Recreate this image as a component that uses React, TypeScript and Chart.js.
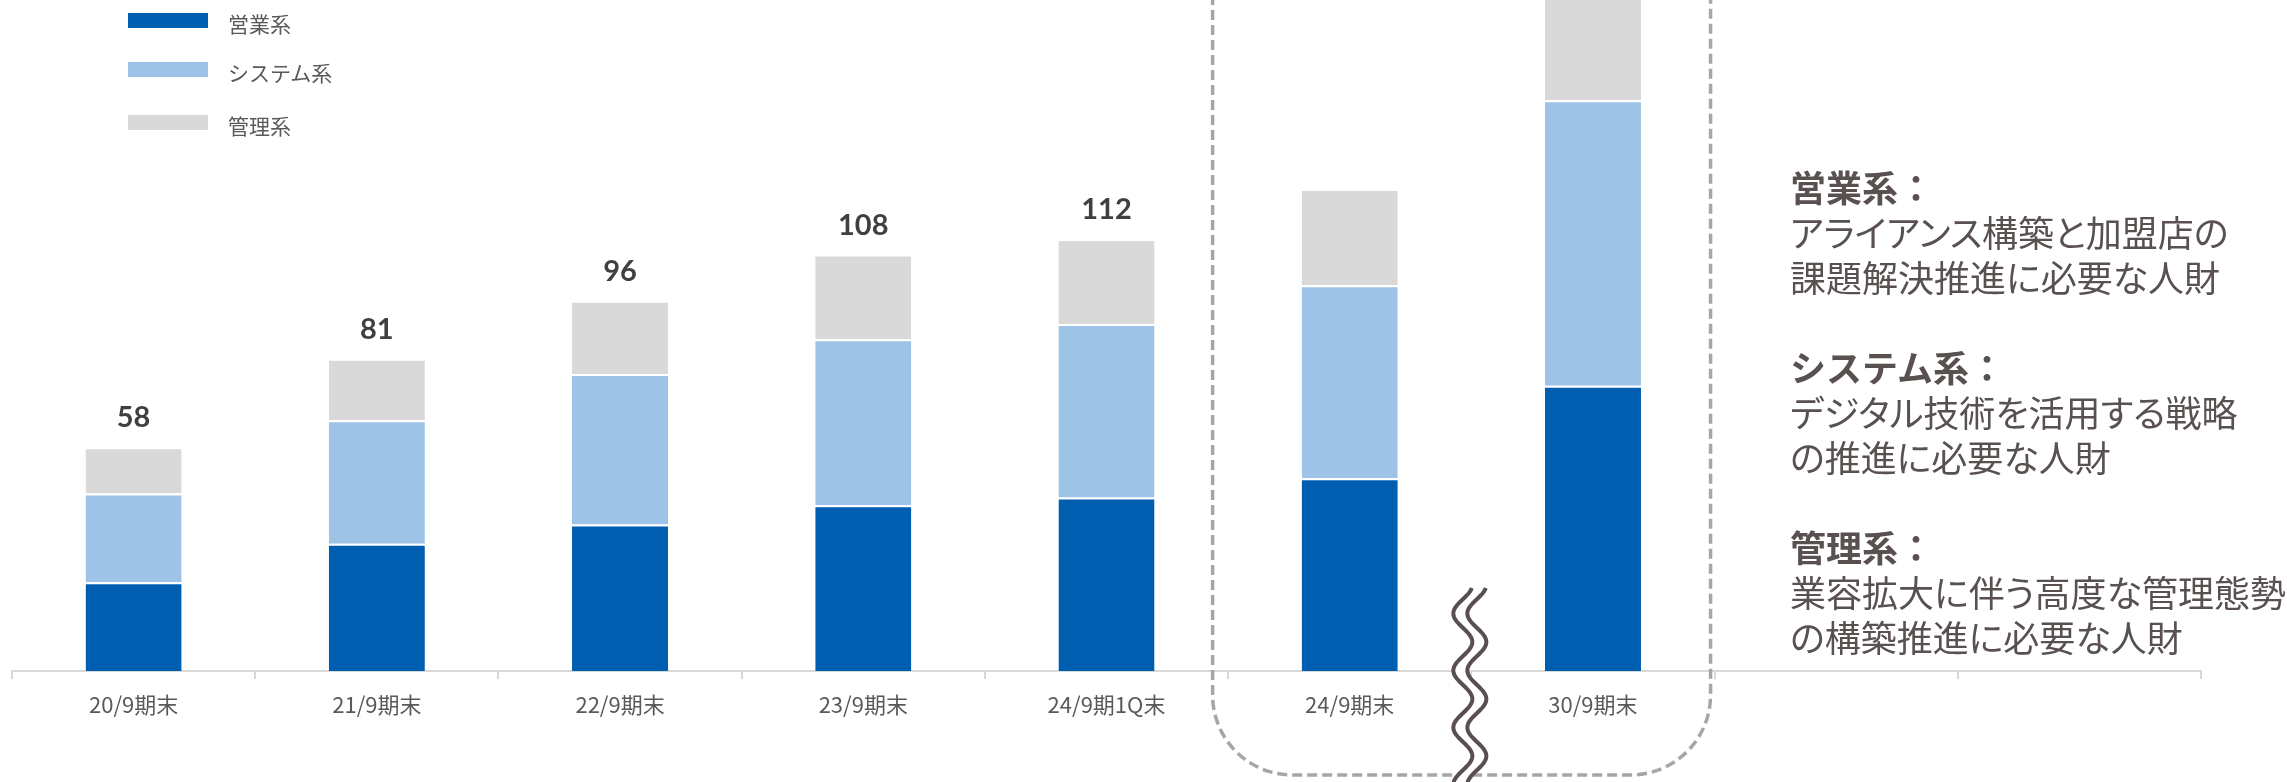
import React, { useEffect, useRef } from 'react';
import { Chart, registerables } from 'chart.js';

Chart.register(...registerables);

// ---- data ----
const categories = ['20/9期末', '21/9期末', '22/9期末', '23/9期末', '24/9期1Q末', '24/9期末', '30/9期末', '', ''];
const seriesLabels = ['営業系', 'システム系', '管理系'];
const salesValues = [23, 33, 38, 43, 45, 50, 74, null, null];
const systemValues = [23, 32, 39, 43, 45, 50, 74, null, null];
const adminValues = [12, 16, 19, 22, 22, 25, 37, null, null];
const showTotal = [true, true, true, true, true, false, false, false, false];
const seriesColors = ['#005eb0', '#9dc3e6', '#d9d9d9'];
const noteTitles = ['営業系：', 'システム系：', '管理系：'];
const noteLines = [
  ['アライアンス構築と加盟店の', '課題解決推進に必要な人財'],
  ['デジタル技術を活用する戦略', 'の推進に必要な人財'],
  ['業容拡大に伴う高度な管理態勢', 'の構築推進に必要な人財'],
];
const yMax = 174;

const W = 2287;
const H = 782;
const FONT = "'Noto Sans CJK JP', 'Noto Sans', sans-serif";

const totalsPlugin = {
  id: 'totals',
  afterDatasetsDraw(chart: any) {
    const ctx = chart.ctx;
    const xs = chart.scales.x;
    const ys = chart.scales.y;
    ctx.save();
    ctx.font = "bold 29px Lato, 'Liberation Sans', sans-serif";
    ctx.fillStyle = '#404040';
    ctx.textAlign = 'center';
    ctx.textBaseline = 'alphabetic';
    categories.forEach((_, i) => {
      if (!showTotal[i]) return;
      const total = (salesValues[i] || 0) + (systemValues[i] || 0) + (adminValues[i] || 0);
      const x = xs.getPixelForValue(i);
      const y = ys.getPixelForValue(total);
      ctx.fillText(String(total), x, y - 20);
    });
    ctx.restore();
  },
};

const decorPlugin = {
  id: 'decor',
  afterDraw(chart: any) {
    const ctx = chart.ctx;
    const xs = chart.scales.x;
    const area = chart.chartArea;
    const step = xs.getPixelForValue(1) - xs.getPixelForValue(0);
    const b5 = xs.getPixelForValue(5) - step / 2;
    const b6 = xs.getPixelForValue(5) + step / 2;
    const b7 = xs.getPixelForValue(6) + step / 2;

    // dashed rounded frame around the last two bars
    const left = b5 - 15.5;
    const right = b7 - 4;
    const bottom = area.bottom + 104;
    const r = 80;
    ctx.save();
    ctx.strokeStyle = '#a6a6a6';
    ctx.lineWidth = 3.5;
    ctx.setLineDash([10, 5]);
    ctx.beginPath();
    ctx.moveTo(left, -5);
    ctx.lineTo(left, bottom - r);
    ctx.arcTo(left, bottom, left + r, bottom, r);
    ctx.lineTo(right - r, bottom);
    ctx.arcTo(right, bottom, right, bottom - r, r);
    ctx.lineTo(right, -5);
    ctx.stroke();
    ctx.restore();

    // wavy break mark
    const c = b6 - 1.5;
    const top = area.bottom - 83;
    const end = H + 10;
    const A = 9.5;
    const P = 57;
    const y0 = area.bottom - 86;
    const wx = (y: number) => c + A * Math.cos((2 * Math.PI * (y - y0)) / P);
    const off = 7;
    ctx.save();
    ctx.beginPath();
    for (let y = top; y <= end; y += 1) {
      const x = wx(y) - off;
      if (y === top) ctx.moveTo(x, y);
      else ctx.lineTo(x, y);
    }
    for (let y = end; y >= top; y -= 1) ctx.lineTo(wx(y) + off, y);
    ctx.closePath();
    ctx.fillStyle = '#ffffff';
    ctx.fill();
    ctx.strokeStyle = '#594f4f';
    ctx.lineWidth = 4;
    [-off, off].forEach((o) => {
      ctx.beginPath();
      for (let y = top; y <= end; y += 1) {
        const x = wx(y) + o;
        if (y === top) ctx.moveTo(x, y);
        else ctx.lineTo(x, y);
      }
      ctx.stroke();
    });
    ctx.restore();
  },
};

export default function App() {
  const canvasRef = useRef<HTMLCanvasElement | null>(null);

  useEffect(() => {
    const canvas = canvasRef.current;
    if (!canvas) return;
    Chart.defaults.font.family = FONT;
    const seriesData = [salesValues, systemValues, adminValues];
    const chart = new Chart(canvas, {
      type: 'bar',
      data: {
        labels: categories,
        datasets: seriesLabels.map((label, k) => ({
          label,
          data: seriesData[k],
          backgroundColor: seriesColors[k],
          borderColor: '#ffffff',
          borderWidth: { top: 2, left: 0, right: 0, bottom: 0 },
          borderSkipped: false,
          categoryPercentage: 1,
          barPercentage: 0.395,
        })),
      },
      options: {
        responsive: false,
        animation: false,
        layout: { padding: { left: 12, right: 86, top: 0, bottom: 0 } },
        plugins: { legend: { display: false }, tooltip: { enabled: false } },
        scales: {
          x: {
            stacked: true,
            grid: {
              display: true,
              drawOnChartArea: false,
              drawTicks: true,
              tickLength: 8,
              color: '#d9d9d9',
              lineWidth: 2,
              offset: true,
            },
            border: { display: true, color: '#d9d9d9', width: 2 },
            ticks: {
              color: '#595959',
              font: { size: 22, family: FONT },
              padding: 12,
              maxRotation: 0,
              autoSkip: false,
            },
            afterFit: (s: any) => {
              s.height = H - 671;
            },
          },
          y: { stacked: true, display: false, min: 0, max: yMax },
        },
      },
      plugins: [totalsPlugin, decorPlugin],
    } as any);
    return () => chart.destroy();
  }, []);

  const legendTops = [13, 62, 115];

  return (
    <div style={{ position: 'fixed', left: 0, top: 0, width: W, height: H, background: '#fff', overflow: 'hidden' }}>
      <canvas ref={canvasRef} width={W} height={H} style={{ position: 'absolute', left: 0, top: 0, width: W, height: H, display: 'block' }} />
      {seriesLabels.map((label, k) => (
        <div key={label}>
          <div style={{ position: 'absolute', left: 128, top: legendTops[k], width: 80, height: 15, background: seriesColors[k] }} />
          <div
            style={{
              position: 'absolute',
              left: 228,
              top: legendTops[k] + 10 - 15,
              height: 30,
              lineHeight: '30px',
              fontSize: 21,
              fontFamily: FONT,
              color: '#595959',
              whiteSpace: 'nowrap',
            }}
          >
            {label}
          </div>
        </div>
      ))}
      <div
        style={{
          position: 'absolute',
          left: 1790,
          top: 164,
          fontFamily: FONT,
          fontSize: 36,
          lineHeight: '45px',
          color: '#595050',
          whiteSpace: 'nowrap',
        }}
      >
        {noteTitles.map((t, k) => (
          <div key={t} style={{ marginBottom: k < noteTitles.length - 1 ? 45 : 0 }}>
            <div style={{ fontWeight: 700 }}>{t}</div>
            {noteLines[k].map((l) => (
              <div key={l} style={{ fontFeatureSettings: '"palt"' }}>
                {l}
              </div>
            ))}
          </div>
        ))}
      </div>
    </div>
  );
}
